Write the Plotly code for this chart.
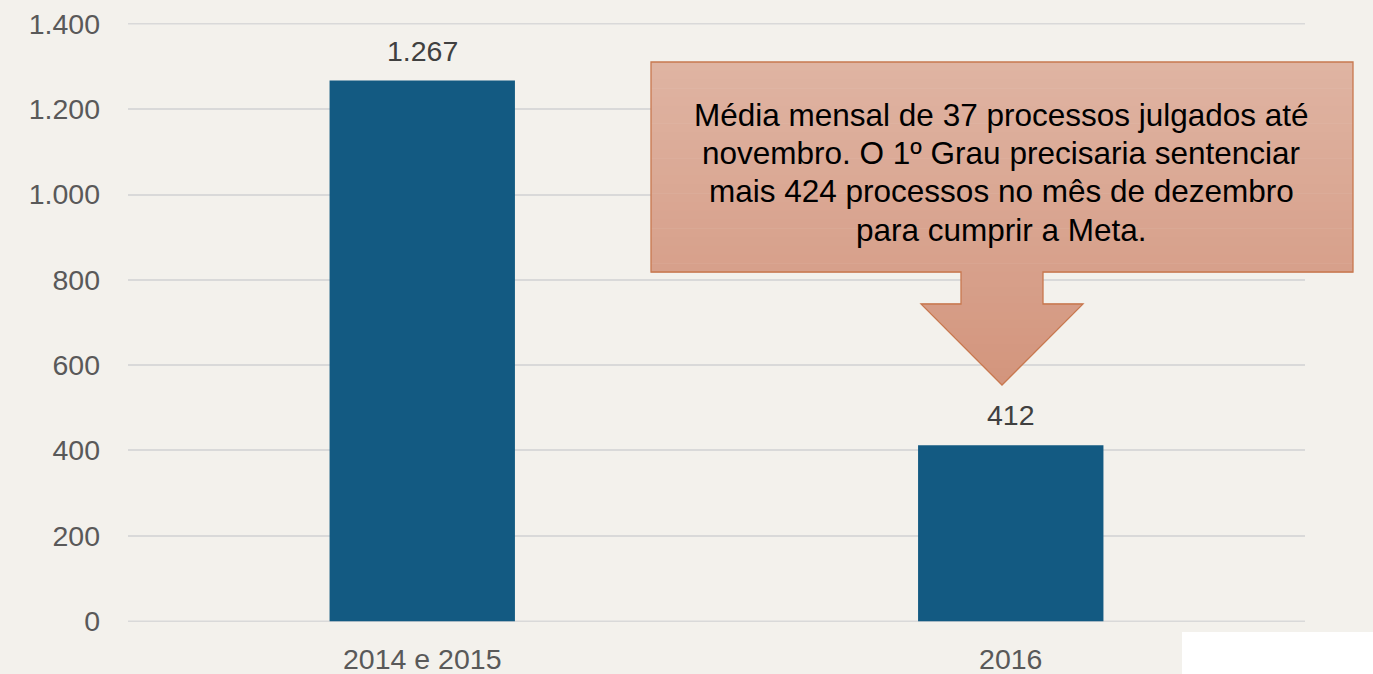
import plotly.graph_objects as go

# ---- data ----
categories = ["2014 e 2015", "2016"]
values = [1267, 412]
y_ticks = [0, 200, 400, 600, 800, 1000, 1200, 1400]
callout_lines = [
    "Média mensal de 37 processos julgados até",
    "novembro. O 1º Grau precisaria sentenciar",
    "mais 424 processos no mês de dezembro",
    "para cumprir a Meta.",
]

# ---- layout geometry (pixels) ----
W, H = 1373, 674
ML, MR, MT, MB = 128, 68, 23, 52
PW, PH = W - ML - MR, H - MT - MB


def px(x):
    return (x - ML) / PW


def py(y):
    return (H - MB - y) / PH


def hexmix(c0, c1, t):
    a = [int(c0[i:i + 2], 16) for i in (1, 3, 5)]
    b = [int(c1[i:i + 2], 16) for i in (1, 3, 5)]
    return "#" + "".join(f"{round(a[i] + (b[i] - a[i]) * t):02x}" for i in range(3))


fig = go.Figure()
fig.add_trace(go.Bar(
    x=categories, y=values,
    marker=dict(color="#135A82", line=dict(width=0)),
    width=0.315, hoverinfo="skip",
))

# value labels above bars (x given as category index)
annotations = []
for i, v in enumerate(values):
    annotations.append(dict(
        x=i, y=v, xref="x", yref="y", text=f"{v:,}".replace(",", "."),
        showarrow=False, yanchor="bottom", yshift=12,
        font=dict(family="Liberation Sans, Arial", size=28.5, color="#404040"),
    ))

shapes = []
# edge gridlines (plotly drops those on the plot border)
for t in (y_ticks[0], y_ticks[-1]):
    shapes.append(dict(type="line", xref="paper", yref="y", x0=0, x1=1, y0=t, y1=t,
                       line=dict(color="#D9D9D9", width=1.5), layer="below"))

# callout geometry
BX0, BX1, BY0, BY1 = 651, 1353, 62, 272
SX0, SX1, SY1 = 961, 1043, 304
HX0, HX1, TX, TY = 921, 1083, 1002, 385
C_TOP, C_BOT = "#DFB4A3", "#D3957D"


def col(y):
    return hexmix(C_TOP, C_BOT, (y - BY0) / (TY - BY0))


N = 24
# box strips
for i in range(N):
    y0 = BY0 + (BY1 - BY0) * i / N
    y1 = BY0 + (BY1 - BY0) * (i + 1) / N
    shapes.append(dict(type="rect", xref="paper", yref="paper",
                       x0=px(BX0), x1=px(BX1), y0=py(y1 + 0.6), y1=py(y0),
                       fillcolor=col((y0 + y1) / 2), line=dict(width=0), layer="above"))
# stem
for i in range(4):
    y0 = BY1 + (SY1 - BY1) * i / 4
    y1 = BY1 + (SY1 - BY1) * (i + 1) / 4
    shapes.append(dict(type="rect", xref="paper", yref="paper",
                       x0=px(SX0), x1=px(SX1), y0=py(y1 + 0.6), y1=py(y0 - 0.6),
                       fillcolor=col((y0 + y1) / 2), line=dict(width=0), layer="above"))
# head trapezoids
M = 10
hw = (HX1 - HX0) / 2
for i in range(M):
    y0 = SY1 + (TY - SY1) * i / M
    y1 = SY1 + (TY - SY1) * (i + 1) / M + 0.6
    y1 = min(y1, TY)
    w0 = hw * (TY - y0) / (TY - SY1)
    w1 = hw * (TY - y1) / (TY - SY1)
    path = (f"M{px(TX - w0)},{py(y0 - 0.6)} L{px(TX + w0)},{py(y0 - 0.6)} "
            f"L{px(TX + w1)},{py(y1)} L{px(TX - w1)},{py(y1)} Z")
    shapes.append(dict(type="path", xref="paper", yref="paper", path=path,
                       fillcolor=col((y0 + y1) / 2), line=dict(width=0), layer="above"))
# outline
pts = [(BX0, BY0), (BX1, BY0), (BX1, BY1), (SX1, BY1), (SX1, SY1), (HX1, SY1),
       (TX, TY), (HX0, SY1), (SX0, SY1), (SX0, BY1), (BX0, BY1)]
outline = "M" + " L".join(f"{px(x)},{py(y)}" for x, y in pts) + " Z"
shapes.append(dict(type="path", xref="paper", yref="paper", path=outline,
                   line=dict(color="#C8784F", width=1.3), layer="above"))

# logo area (white block bottom right)
shapes.append(dict(type="rect", xref="paper", yref="paper",
                   x0=px(1182), x1=px(1380), y0=py(680), y1=py(632),
                   fillcolor="#FFFFFF", line=dict(width=0), layer="above"))

# callout text
line_y = [115, 153, 191, 230]
for t, yy in zip(callout_lines, line_y):
    annotations.append(dict(
        x=px(1001), y=py(yy), xref="paper", yref="paper", text=t,
        showarrow=False, xanchor="center", yanchor="middle",
        font=dict(family="Liberation Sans, Arial", size=31.5, color="#000000"),
    ))

fig.update_layout(
    width=W, height=H,
    margin=dict(l=ML, r=MR, t=MT, b=MB, pad=0, autoexpand=False),
    paper_bgcolor="#F3F1EC", plot_bgcolor="rgba(0,0,0,0)",
    separators=",.",
    showlegend=False,
    bargap=0.685,
    shapes=shapes,
    annotations=annotations,
    xaxis=dict(
        type="category", range=[-0.5, 1.5], automargin=False,
        showgrid=False, zeroline=False, showline=False, ticks="",
        tickfont=dict(family="Liberation Sans, Arial", size=28.5, color="#595959"),
        ticklabelstandoff=17, fixedrange=True,
    ),
    yaxis=dict(
        range=[-2, 1402], tickvals=y_ticks, tickformat=",d", automargin=False,
        showgrid=True, gridcolor="#D9D9D9", gridwidth=1.5,
        zeroline=False, showline=False, ticks="",
        tickfont=dict(family="Liberation Sans, Arial", size=28.5, color="#595959"),
        ticklabelstandoff=27, fixedrange=True,
    ),
)

fig.write_html(
    "out.html",
    config={"displayModeBar": False},
    post_script="document.body.style.margin='0';document.body.style.background='#F3F1EC';",
)
